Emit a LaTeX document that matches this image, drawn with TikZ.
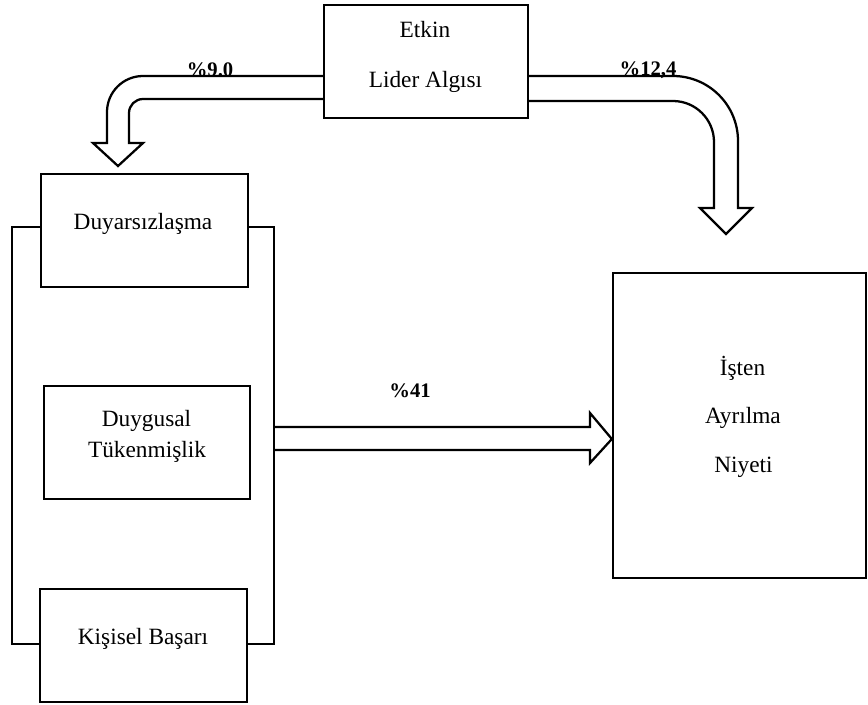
\documentclass[tikz,border=0pt]{standalone}
\usepackage{fontspec}
\setmainfont{Liberation Serif}
\usetikzlibrary{fit,calc}
\begin{document}
\begin{tikzpicture}[x=0.75pt,y=-0.75pt,
  box/.style={draw,line width=1.7pt,inner sep=0pt,fit={#1}},
  txt/.style={anchor=base,inner sep=0pt,font=\fontsize{17.5}{21}\selectfont},
  pct/.style={anchor=base,inner sep=0pt,font=\fontsize{15.5}{18}\selectfont\bfseries},
  barrow/.style={draw,line width=1.7pt,line join=miter},
  brk/.style={draw,line width=1.7pt}]
\useasboundingbox (0,0) rectangle (868,704);
% boxes
\node[box={(324,5) (528,118)}] (etkin) {};
\node[box={(41,174) (248,287)}] (duyar) {};
\node[box={(44,386) (250,499)}] (duygu) {};
\node[box={(40,589) (247,702)}] (kisisel) {};
\node[box={(613,273) (866,578)}] (isten) {};
% texts
\node[txt] (t1) at (425,37) {Etkin};
\node[txt] (t2) at (425.5,87) {Lider Algısı};
\node[txt] (t3) at (143,229) {Duyarsızlaşma};
\node[txt] (t4) at (146.5,426) {Duygusal};
\node[txt] (t5) at (147,457) {Tükenmişlik};
\node[txt] (t6) at (143,644) {Kişisel Başarı};
\node[txt] (t7) at (742.5,375) {İşten};
\node[txt] (t8) at (743,423) {Ayrılma};
\node[txt] (t9) at (743.5,472) {Niyeti};
% bracket
\coordinate (bl) at (12,227);
\coordinate (br) at (274,227);
\draw[brk] (duyar.west |- bl) -- (bl) -- (12,644) -- (kisisel.west |- 0,644);
\draw[brk] (duyar.east |- br) -- (br) -- (274,644) -- (kisisel.east |- 0,644);
% left block arrow
\draw[barrow] (etkin.west |- 0,76) -- (143,76) .. controls (123.1,76) and (107,92.1) .. (107,112)
  -- (107,143) -- (93,143) -- (118,166) -- (143,143) -- (129,143) -- (129,113)
  .. controls (129,105.3) and (135.3,99) .. (143,99) -- (etkin.west |- 0,99);
% right block arrow
\draw[barrow] (etkin.east |- 0,76) -- (673,76) .. controls (708.9,76) and (738,105.1) .. (738,141)
  -- (738,208) -- (752,208) -- (726,234) -- (700,208) -- (714,208) -- (714,142)
  .. controls (714,119.4) and (695.6,101) .. (673,101) -- (etkin.east |- 0,101);
% middle block arrow
\draw[barrow] (br |- 0,427) -- (590,427) -- (590,413) -- (isten.west |- 0,439) -- (590,463) -- (590,450) -- (br |- 0,450);
% labels
\node[pct] (p1) at (210,76) {\%9.0};
\node[pct] (p2) at (648,75) {\%12,4};
\node[pct] (p3) at (410,397) {\%41};
\end{tikzpicture}
\end{document}
